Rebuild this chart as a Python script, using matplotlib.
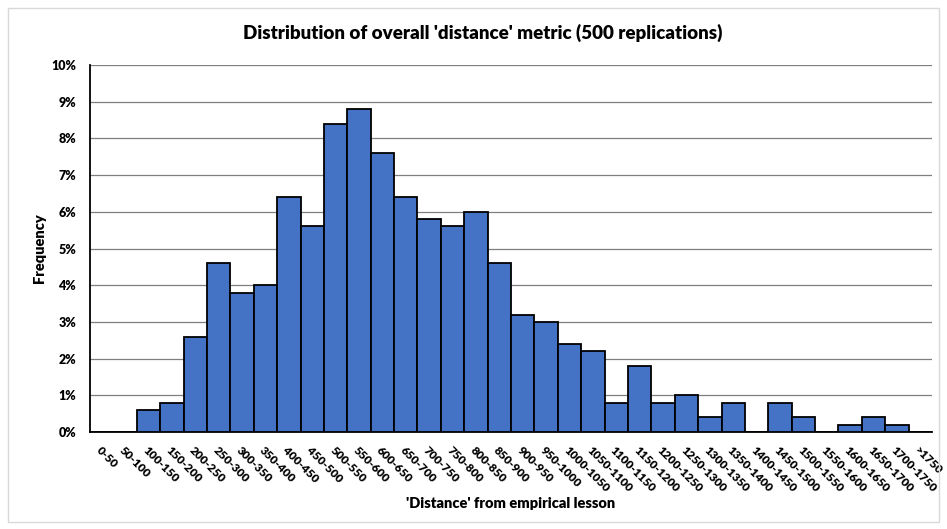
import matplotlib
matplotlib.use("Agg")
import matplotlib.pyplot as plt
from matplotlib.patches import Rectangle

categories = ["0-50", "50-100", "100-150", "150-200", "200-250", "250-300", "300-350",
              "350-400", "400-450", "450-500", "500-550", "550-600", "600-650", "650-700",
              "700-750", "750-800", "800-850", "850-900", "900-950", "950-1000",
              "1000-1050", "1050-1100", "1100-1150", "1150-1200", "1200-1250",
              "1250-1300", "1300-1350", "1350-1400", "1400-1450", "1450-1500",
              "1500-1550", "1550-1600", "1600-1650", "1650-1700", "1700-1750", ">1750"]
frequency = [0, 0, 0.6, 0.8, 2.6, 4.6, 3.8, 4.0, 6.4, 5.6, 8.4, 8.8, 7.6, 6.4, 5.8, 5.6,
             6.0, 4.6, 3.2, 3.0, 2.4, 2.2, 0.8, 1.8, 0.8, 1.0, 0.4, 0.8, 0, 0.8, 0.4, 0,
             0.2, 0.4, 0.2, 0]
yticks = [0, 1, 2, 3, 4, 5, 6, 7, 8, 9, 10]
ytick_labels = [f"{v}%" for v in yticks]

plt.rcParams['font.family'] = ['Lato', 'DejaVu Sans']

fig = plt.figure(figsize=(9.47, 5.29), dpi=100)
fig.patches.append(Rectangle((8/947, 1 - 522/529), 931/947, 514/529,
                             transform=fig.transFigure, fill=False,
                             edgecolor='#D9D9D9', linewidth=1))
ax = fig.add_axes([90/947, 1 - 432/529, 842/947, 367/529])

x = list(range(len(categories)))
ax.bar(x, frequency, width=1.0, color='#4472C4', edgecolor='black', linewidth=1.3, zorder=3)

ax.set_xlim(-0.5, len(categories) - 0.5)
ax.set_ylim(0, 10)
ax.set_yticks(yticks)
ax.set_yticklabels(ytick_labels, fontsize=9, fontweight='heavy')
ax.yaxis.grid(True, color='#7F7F7F', linewidth=0.9, zorder=0)
ax.set_xticks(x)
ax.set_xticklabels(categories, rotation=-45, ha='left', va='top',
                   rotation_mode='anchor', fontsize=8.5, fontweight='heavy')
ax.tick_params(axis='both', length=0)
ax.tick_params(axis='x', pad=9)
ax.tick_params(axis='y', pad=10)

for s in ['top', 'right']:
    ax.spines[s].set_visible(False)
ax.spines['left'].set_linewidth(1.3)
ax.spines['bottom'].set_linewidth(1.3)

fig.text(483/947, 1 - 33/529,
         "Distribution of overall 'distance' metric (500 replications)",
         fontsize=13.5, fontweight='heavy', ha='center', va='center')
ax.set_ylabel("Frequency", fontsize=10.5, fontweight='heavy', labelpad=4)
ax.set_xlabel("'Distance' from empirical lesson", fontsize=10.5, fontweight='heavy', labelpad=2)

fig.savefig("out.png", dpi=100)
